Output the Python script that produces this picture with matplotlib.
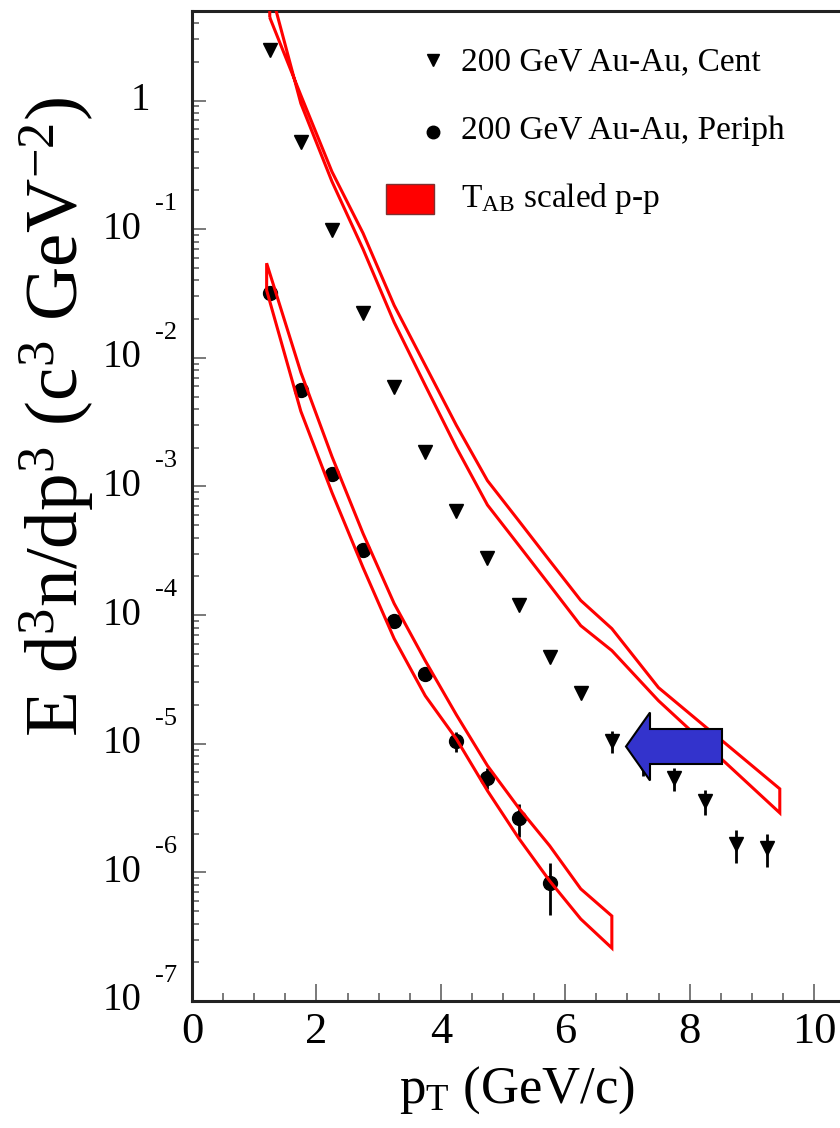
import matplotlib
matplotlib.use('Agg')
import matplotlib.pyplot as plt
from matplotlib import transforms
from matplotlib.patches import FancyArrow, Rectangle
from matplotlib.lines import Line2D
from matplotlib.ticker import LogLocator, MultipleLocator, NullFormatter

plt.rcParams['font.family'] = 'Liberation Serif'
plt.rcParams['mathtext.fontset'] = 'custom'
plt.rcParams['mathtext.rm'] = 'Liberation Serif'
plt.rcParams['mathtext.it'] = 'Liberation Serif:italic'

# 200 GeV Au-Au, central
pt_cent = [1.25, 1.75, 2.25, 2.75, 3.25, 3.75, 4.25, 4.75, 5.25,
           5.75, 6.25, 6.75, 7.25, 7.75, 8.25, 8.75, 9.25]
y_cent = [2.47, 0.475, 0.098, 0.0222, 5.9e-3, 1.87e-3, 6.5e-4, 2.8e-4, 1.2e-4,
          4.7e-5, 2.5e-5, 1.05e-5, 6.8e-6, 5.4e-6, 3.6e-6, 1.66e-6, 1.55e-6]
err_cent = [0, 0, 0, 0, 0, 0, 0, 0, 0,
            0.5e-6, 0.8e-6, 2.0e-6, 1.2e-6, 1.1e-6, 0.8e-6, 0.48e-6, 0.45e-6]

# 200 GeV Au-Au, peripheral
pt_per = [1.25, 1.75, 2.25, 2.75, 3.25, 3.75, 4.25, 4.75, 5.25, 5.75]
y_per = [0.0318, 5.6e-3, 1.26e-3, 3.18e-4, 9.05e-5, 3.5e-5, 1.05e-5, 5.43e-6, 2.65e-6, 8.3e-7]
err_per = [0, 0, 0, 0, 0, 1.5e-6, 1.9e-6, 1.0e-6, 0.75e-6, 0.36e-6]

# T_AB scaled p-p bands (edges)
pt_band_cent = [1.25, 1.75, 2.25, 2.75, 3.25, 3.75, 4.25, 4.75, 5.25, 5.75, 6.25, 6.75, 7.5, 9.45]
band_cent_a = [4.43, 1.10, 0.280, 0.0931, 0.0256, 8.75e-3, 2.99e-3, 1.11e-3, 5.44e-4,
               2.65e-4, 1.30e-4, 7.85e-5, 2.73e-5, 4.46e-6]
band_cent_b = [7.64, 0.95, 0.235, 0.0700, 0.0189, 6.11e-3, 2.01e-3, 7.18e-4, 3.51e-4,
               1.71e-4, 8.28e-5, 5.30e-5, 2.16e-5, 2.90e-6]

pt_band_per = [1.2, 1.75, 2.25, 2.75, 3.25, 3.75, 4.25, 4.75, 5.25, 5.75, 6.25, 6.75]
band_per_hi = [0.0544, 7.71e-3, 1.71e-3, 4.31e-4, 1.23e-4, 4.42e-5, 1.68e-5, 6.75e-6,
               3.18e-6, 1.61e-6, 7.44e-7, 4.58e-7]
band_per_lo = [0.0335, 3.84e-3, 8.98e-4, 2.34e-4, 6.56e-5, 2.36e-5, 1.09e-5, 4.31e-6,
               1.85e-6, 8.59e-7, 4.34e-7, 2.58e-7]

decades = [-7, -6, -5, -4, -3, -2, -1]

W, H = 840, 1128
fig = plt.figure(figsize=(W / 100, H / 100), dpi=100)
ax = fig.add_axes([192 / W, (H - 1001) / H, 10.6 * 62.2 / W, 990 / H])
ax.set_yscale('log')
ax.set_xlim(0, 10.6)
ax.set_ylim(1e-7, 4.97)

# data points
ax.errorbar(pt_cent, y_cent, yerr=err_cent, fmt='v', color='black', ms=10.5,
            elinewidth=2.0, capsize=0, zorder=2)
ax.errorbar(pt_per, y_per, yerr=err_per, fmt='o', color='black', ms=10,
            elinewidth=2.0, capsize=0, zorder=2)

# bands drawn as closed outlines
ax.fill(pt_band_cent + pt_band_cent[::-1], band_cent_a + band_cent_b[::-1],
        facecolor='none', edgecolor='#ff0000', lw=2.2, zorder=3)
ax.fill(pt_band_per + pt_band_per[::-1], band_per_hi + band_per_lo[::-1],
        facecolor='none', edgecolor='#ff0000', lw=2.2, zorder=3)

# axes styling
for side in ['left', 'bottom', 'top']:
    ax.spines[side].set_linewidth(2.2)
    ax.spines[side].set_color('#222222')
ax.spines['right'].set_visible(False)

ax.xaxis.set_major_locator(MultipleLocator(2))
ax.xaxis.set_minor_locator(MultipleLocator(0.5))
ax.yaxis.set_major_locator(LogLocator(base=10, numticks=20))
ax.yaxis.set_minor_locator(LogLocator(base=10, subs=range(2, 10), numticks=40))
ax.yaxis.set_major_formatter(NullFormatter())
ax.yaxis.set_minor_formatter(NullFormatter())
ax.tick_params(axis='both', which='both', direction='in', color='#555555',
               width=1.1, top=False, right=False)
ax.tick_params(axis='y', which='major', length=10)
ax.tick_params(axis='y', which='minor', length=5)
ax.tick_params(axis='x', which='major', length=12, labelsize=32, pad=8)
ax.tick_params(axis='x', which='minor', length=6)

# y tick labels: 1 and 10^-n
ytr = transforms.blended_transform_factory(fig.transFigure, ax.transData)
sup = ytr + transforms.ScaledTranslation(0, 0.25, fig.dpi_scale_trans)
ax.text(150 / W, 1.0, '1', transform=ytr, ha='right', va='center', fontsize=28)
for d in decades:
    ax.text(142 / W, 10.0 ** d, '10', transform=ytr, ha='right', va='center', fontsize=28)
    ax.text(155 / W, 10.0 ** d, '-%d' % (-d), transform=sup, ha='left', va='center',
            fontsize=19)

ax.set_xlabel(r'p$_{\mathrm{T}}$ (GeV/c)', fontsize=38, va='center')
ax.xaxis.set_label_coords(0.493, -0.09)
ax.set_ylabel(r'E d$^{3}$n/dp$^{3}$ (c$^{3}$ GeV$^{-2}$)', fontsize=54, va='center')
ax.yaxis.set_label_coords(-0.205, 0.59)

# legend
fig.add_artist(Line2D([433 / W], [1 - 60 / H], marker='v', ms=9, color='black',
                      transform=fig.transFigure))
fig.add_artist(Line2D([433 / W], [1 - 132 / H], marker='o', ms=9, color='black',
                      transform=fig.transFigure))
fig.add_artist(Rectangle((386 / W, 1 - 214 / H), 48 / W, 30 / H, facecolor='#ff0000',
                         edgecolor='#7f3030', lw=1, transform=fig.transFigure))
fig.text(461 / W, 1 - 62 / H, '200 GeV Au-Au, Cent', va='center', fontsize=24)
fig.text(461 / W, 1 - 131 / H, '200 GeV Au-Au, Periph', va='center', fontsize=24)
fig.text(461 / W, 1 - 199 / H, r'T$_{\mathrm{AB}}$ scaled p-p', va='center', fontsize=24)

# arrow
fig.add_artist(FancyArrow(722 / W, 1 - 746.5 / H, -(722 - 626) / W, 0,
                          width=35 / H, head_width=68 / H, head_length=24 / W,
                          length_includes_head=True, facecolor='#3333cc',
                          edgecolor='black', lw=1.5, transform=fig.transFigure))

fig.savefig('out.png', dpi=100)
